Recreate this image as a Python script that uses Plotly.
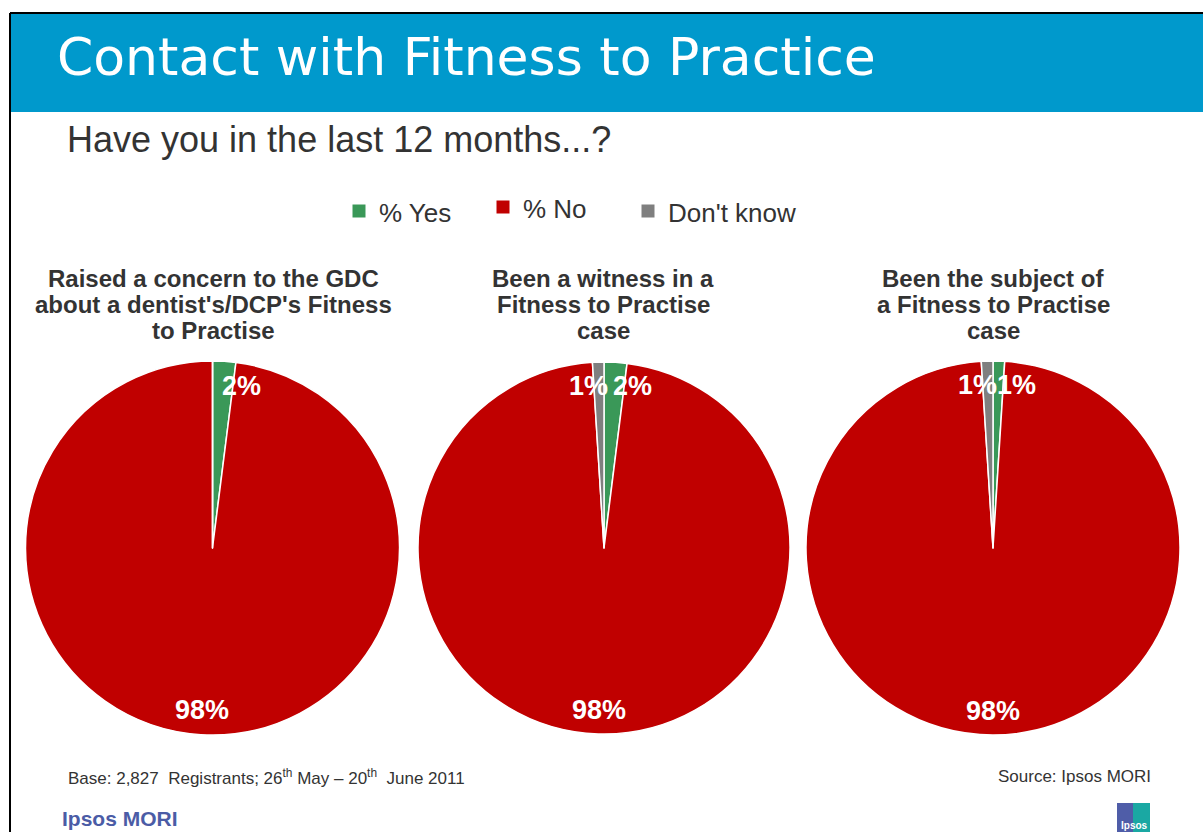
import math
import plotly.graph_objects as go

W, H = 1203, 832

# ---- data -------------------------------------------------------------
answers = ["% Yes", "% No", "Don't know"]
answer_colors = ["#3A9858", "#C00000", "#7F7F7F"]

question_lines = [
    ["Raised a concern to the GDC", "about a dentist's/DCP's Fitness", "to Practise"],
    ["Been a witness in a", "Fitness to Practise", "case"],
    ["Been the subject of", "a Fitness to Practise", "case"],
]
yes_pct = [2, 2, 1]
no_pct = [98, 98, 98]
dont_know_pct = [0, 1, 1]

# ---- layout constants (pixels) ----------------------------------------
pie_boxes = [(25, 400, 361, 735), (418, 790, 361, 735), (806, 1180, 361, 735)]
title_centers = [213, 603, 993]
title_line_y = [278, 304, 330]
legend_x = [359, 503, 648]          # centre of each legend swatch
legend_y = [212, 208, 212]          # vertical centre of each legend entry

FONT = "Liberation Sans, Arial, sans-serif"
TEXT_DARK = "#333333"


def px(x):
    return x / W


def py(y):
    return 1 - y / H


fig = go.Figure()
annotations = []
shapes = []

for i in range(3):
    vals = [yes_pct[i], no_pct[i], dont_know_pct[i]]
    x0, x1, y0, y1 = pie_boxes[i]
    fig.add_trace(go.Pie(
        labels=answers,
        values=vals,
        sort=False,
        direction="clockwise",
        rotation=0,
        marker=dict(colors=answer_colors, line=dict(color="white", width=1.5)),
        textinfo="none",
        hovertemplate="%{label}: %{value}%<extra></extra>",
        domain=dict(x=[px(x0), px(x1)], y=[py(y1), py(y0)]),
        showlegend=False,
    ))

    # value labels placed at each slice's mid-angle
    cx, cy = (x0 + x1) / 2, (y0 + y1) / 2
    radius = min(x1 - x0, y1 - y0) / 2
    r_lab = 0.87 * radius
    total = sum(vals)
    cum = 0
    for v in vals:
        if v > 0:
            mid = (cum + v / 2) / total * 2 * math.pi
            lx = cx + r_lab * math.sin(mid)
            ly = cy - r_lab * math.cos(mid)
            frac = v / total
            if frac > 0.1:
                anchor, shift = "center", 0
            elif math.sin(mid) >= 0:
                anchor, shift = "left", -3
            else:
                anchor, shift = "right", 11
            annotations.append(dict(
                x=px(lx), y=py(ly), xref="paper", yref="paper",
                text=f"{v}%", showarrow=False, xanchor=anchor, yanchor="middle",
                xshift=shift,
                font=dict(family=FONT, size=27, color="white", weight="bold"),
            ))
        cum += v

    # question heading above each pie
    for line, ly in zip(question_lines[i], title_line_y):
        annotations.append(dict(
            x=px(title_centers[i]), y=py(ly), xref="paper", yref="paper",
            text=line, showarrow=False, xanchor="center", yanchor="middle",
            font=dict(family=FONT, size=24, color=TEXT_DARK, weight="bold"),
        ))

# legend: coloured swatch + label for each answer
for name, color, lx, ly in zip(answers, answer_colors, legend_x, legend_y):
    shapes.append(dict(
        type="rect", xref="paper", yref="paper",
        x0=px(lx - 6.5), x1=px(lx + 6.5), y0=py(ly - 1 + 6.5), y1=py(ly - 1 - 6.5),
        fillcolor=color, line=dict(width=0),
    ))
    annotations.append(dict(
        x=px(lx + 18), y=py(ly + 1), xref="paper", yref="paper",
        text=name, showarrow=False, xanchor="left", yanchor="middle",
        font=dict(family=FONT, size=26, color=TEXT_DARK),
    ))

# header and page texts
annotations += [
    dict(x=px(55), y=py(57), xref="paper", yref="paper", xanchor="left", yanchor="middle",
         text="Contact with Fitness to Practice", showarrow=False,
         font=dict(family="DejaVu Sans, sans-serif", size=52, color="white")),
    dict(x=px(65), y=py(139), xref="paper", yref="paper", xanchor="left", yanchor="middle",
         text="Have you in the last 12 months...?", showarrow=False,
         font=dict(family=FONT, size=36, color=TEXT_DARK)),
    dict(x=px(66), y=py(777), xref="paper", yref="paper", xanchor="left", yanchor="middle",
         text="Base: 2,827  Registrants; 26<sup>th</sup> May \u2013 20<sup>th</sup>  June 2011",
         showarrow=False, font=dict(family=FONT, size=17, color=TEXT_DARK)),
    dict(x=px(1153), y=py(776), xref="paper", yref="paper", xanchor="right", yanchor="middle",
         text="Source: Ipsos MORI", showarrow=False,
         font=dict(family=FONT, size=17, color=TEXT_DARK)),
    dict(x=px(60), y=py(818), xref="paper", yref="paper", xanchor="left", yanchor="middle",
         text="Ipsos MORI", showarrow=False,
         font=dict(family=FONT, size=21, color="#4B5CA6", weight="bold")),
    dict(x=px(1134), y=py(825), xref="paper", yref="paper", xanchor="center", yanchor="middle",
         text="Ipsos", showarrow=False,
         font=dict(family=FONT, size=10, color="white", weight="bold")),
]

shapes += [
    # blue header band
    dict(type="rect", xref="paper", yref="paper", x0=px(11), x1=1, y0=py(112), y1=py(14),
         fillcolor="#0099CC", line=dict(width=0), layer="below"),
    # slide frame (top and left edges)
    dict(type="line", xref="paper", yref="paper", x0=px(10), x1=1, y0=py(13), y1=py(13),
         line=dict(color="black", width=2)),
    dict(type="line", xref="paper", yref="paper", x0=px(10), x1=px(10), y0=py(13), y1=0,
         line=dict(color="black", width=2)),
    # small Ipsos logo tile
    dict(type="rect", xref="paper", yref="paper", x0=px(1117), x1=px(1133), y0=0, y1=py(803),
         fillcolor="#4F5DA8", line=dict(width=0)),
    dict(type="rect", xref="paper", yref="paper", x0=px(1133), x1=px(1150), y0=0, y1=py(803),
         fillcolor="#1AA8A3", line=dict(width=0)),
]

fig.update_layout(
    width=W, height=H,
    margin=dict(l=0, r=0, t=0, b=0),
    paper_bgcolor="white",
    plot_bgcolor="white",
    annotations=annotations,
    shapes=shapes,
    showlegend=False,
)

fig.write_html("out.html")
